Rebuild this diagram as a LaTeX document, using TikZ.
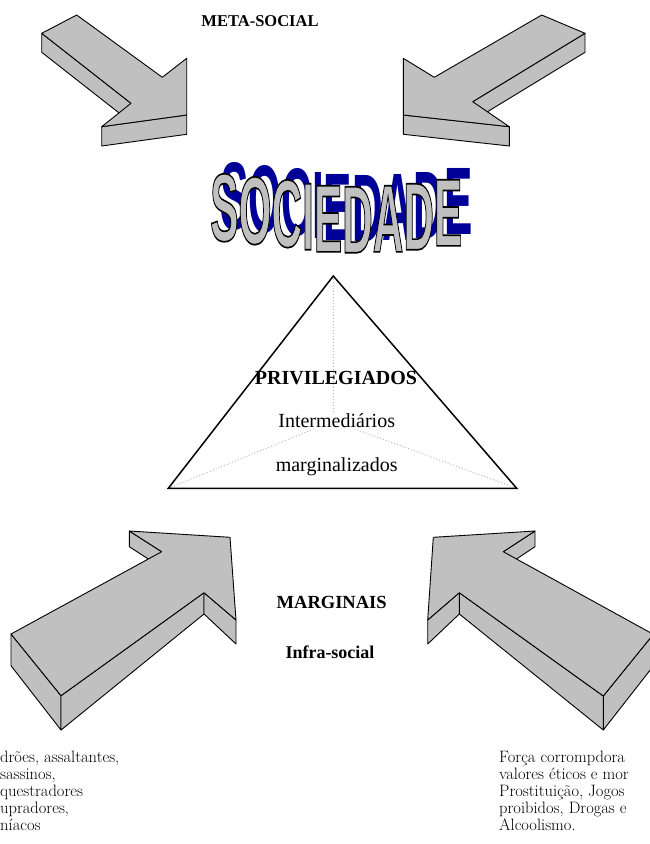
\documentclass[tikz,border=0pt]{standalone}
\usepackage{graphicx}
\usepackage{fontspec}
\newfontfamily\serifT{Liberation Serif}
\newfontfamily\artfont{Liberation Sans}

\definecolor{slab}{RGB}{192,192,192}
\definecolor{artblue}{RGB}{0,0,153}
\definecolor{dotgray}{RGB}{185,185,185}

% wavy word: each letter raised along a gentle curve
\newcommand\sociedade{%
  \raisebox{5pt}{S}\raisebox{3.75pt}{O}\raisebox{2.5pt}{C}\raisebox{1.25pt}{I}%
  \raisebox{0.4pt}{E}D\raisebox{0.4pt}{A}\raisebox{1.25pt}{D}\raisebox{2.9pt}{E}}
\newcommand\artword{\scalebox{1.06}[2.4]{\fontsize{40}{40}\selectfont\artfont\bfseries\sociedade}}
% glyphs filled with the current colour and stroked in black
\newcommand\outlined[1]{%
  \special{pdf:literal direct 2 Tr 0.7 w 0 0 0 RG}#1\special{pdf:literal direct 0 Tr}}

\begin{document}
\begin{tikzpicture}[x=1pt,y=-1pt,
  face/.style={fill=slab,draw=black,line width=0.9pt,line join=round},
  label/.style={inner sep=0pt,font=\serifT\bfseries},
  plain/.style={inner sep=0pt,font=\serifT},
  note/.style={inner sep=0pt,anchor=north west,align=left,
    font=\fontsize{16.5}{17}\selectfont},
  art/.style={inner sep=0pt,anchor=south west},
  guide/.style={draw=dotgray,dotted,line width=1pt}]

\useasboundingbox (0,0) rectangle (650,844);
\clip (0,0) rectangle (650,844);

% ---------- upper left slab arrow ----------
\draw[face] (41.7,33.3) -- (131,103.3) -- (131,122.3) -- (41.7,52.3) -- cycle;
\draw[face] (101.7,126.7) -- (186.7,115) -- (186.7,134.3) -- (101.7,146) -- cycle;
\draw[face] (41.7,33.3) -- (76.7,15) -- (162.3,77.3) -- (186.7,58.3)
  -- (186.7,115) -- (101.7,126.7) -- (131,103.3) -- cycle;

% ---------- upper right slab arrow ----------
\draw[face] (585,33.3) -- (472.7,101.7) -- (472.7,120.7) -- (585,52.3) -- cycle;
\draw[face] (403.3,115) -- (509.3,126.7) -- (509.3,146) -- (403.3,134.3) -- cycle;
\draw[face] (541.7,15) -- (585,33.3) -- (472.7,101.7) -- (509.3,126.7)
  -- (403.3,115) -- (403.3,58.3) -- (434.3,77.3) -- cycle;

% ---------- lower left slab arrow ----------
\draw[face] (129.3,531) -- (161.7,551.7) -- (161.7,567.7) -- (129.3,546.7) -- cycle;
\draw[face] (11,634) -- (61,695.7) -- (61,730) -- (11,665.7) -- cycle;
\draw[face] (61,695.7) -- (204,592.7) -- (204,614) -- (61,730) -- cycle;
\draw[face] (204,592.7) -- (236,620) -- (236,644) -- (204,614) -- cycle;
\draw[face] (11,634) -- (61,695.7) -- (204,592.7) -- (236,620)
  -- (230,537.3) -- (129.3,531) -- (161.7,551.7) -- cycle;

% ---------- lower right slab arrow ----------
\draw[face] (535,531) -- (503.3,551.7) -- (503.3,567.7) -- (535,546.7) -- cycle;
\draw[face] (603.3,696) -- (653.3,634.3) -- (653.3,666) -- (603.3,730) -- cycle;
\draw[face] (459.3,592.7) -- (603.3,696) -- (603.3,730) -- (459.3,614) -- cycle;
\draw[face] (427.7,620) -- (459.3,592.7) -- (459.3,614) -- (427.7,644) -- cycle;
\draw[face] (653.3,634.3) -- (603.3,696) -- (459.3,592.7) -- (427.7,620)
  -- (433.3,537.3) -- (535,531) -- (503.3,551.7) -- cycle;

% ---------- word art ----------
\coordinate (shadowsw) at (220,242);
\coordinate (wordsw) at (210,253);
\node[art,text=artblue] (wshadow) at (shadowsw) {\artword};
\node[art,text=slab] (word) at (wordsw) {\outlined{\artword}};

% ---------- pyramid ----------
\coordinate (apex) at (333.3,276);
\coordinate (bl) at (168.3,488.3);
\coordinate (br) at (516.7,488.3);
\coordinate (mid) at (333.3,421);
\draw[guide] (apex) -- (mid) (bl) -- (mid) -- (br);
\draw[line width=1.5pt,line join=miter] (apex) -- (bl) -- (br) -- cycle;

% ---------- labels ----------
\node[label,font=\serifT\bfseries\fontsize{16.5}{18}\selectfont] (meta) at (260,21) {META-SOCIAL};
\node[label,font=\serifT\bfseries\fontsize{20}{22}\selectfont] (priv) at (336,378) {PRIVILEGIADOS};
\node[plain,fill=white,inner sep=1pt,font=\serifT\fontsize{20}{22}\selectfont] (inter) at (336.7,421) {Intermediários};
\node[plain,font=\serifT\fontsize{20}{22}\selectfont] (margz) at (336.7,467) {marginalizados};
\node[label,font=\serifT\bfseries\fontsize{18.5}{20}\selectfont] (marg) at (331.7,602) {MARGINAIS};
\node[label,font=\serifT\bfseries\fontsize{18}{20}\selectfont] (infra) at (330,652.5) {Infra-social};

\node[note] (crimes) at (0,751) {drões, assaltantes,\\sassinos,\\questradores\\upradores,\\níacos};
\node[note] (vices) at (499,751) {Força corrompdora\\valores éticos e mor\\Prostituição, Jogos\\proibidos, Drogas e\\Alcoolismo.};
\end{tikzpicture}
\end{document}
